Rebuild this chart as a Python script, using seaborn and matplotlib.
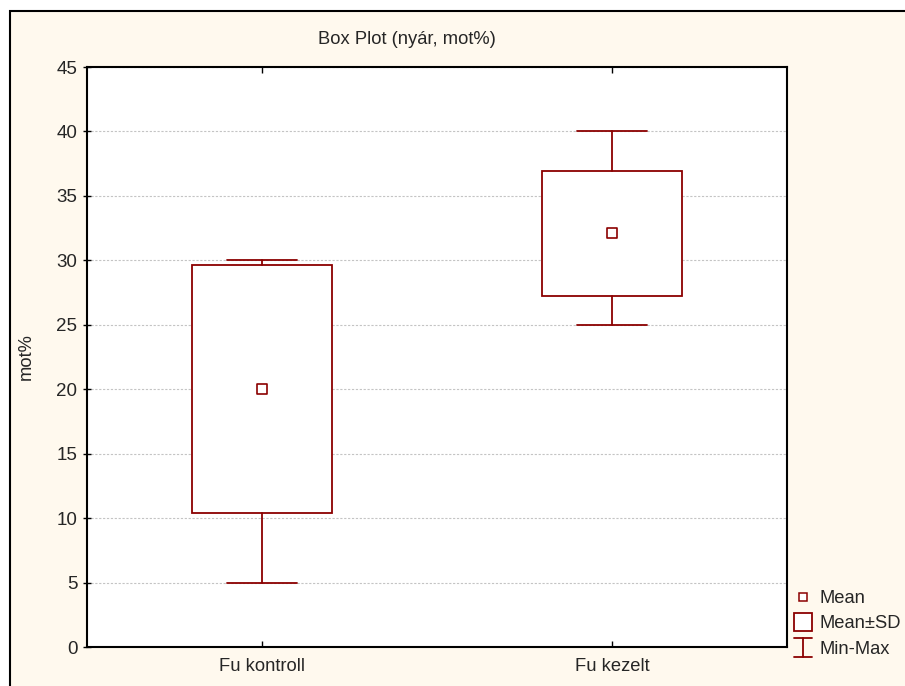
import numpy as np
import pandas as pd
import seaborn as sns
import matplotlib
matplotlib.use("Agg")
import matplotlib.pyplot as plt
from matplotlib.patches import Rectangle
from matplotlib.lines import Line2D
from matplotlib.legend_handler import HandlerBase

# ---- data ----
categories = ["Fu kontroll", "Fu kezelt"]
means = [20.0, 32.1]
sds = [9.6, 4.85]
mins = [5.0, 25.0]
maxs = [30.0, 40.0]
yticks = [0, 5, 10, 15, 20, 25, 30, 35, 40, 45]

RED = "#8b0000"
CREAM = "#fff9ee"
FS = 13.2

sns.set_style("white")
plt.rcParams["font.family"] = ["Liberation Sans", "DejaVu Sans"]

fig = plt.figure(figsize=(9.05, 6.86), dpi=100)
fig.patch.set_facecolor("white")
frame = Rectangle((10 / 905, -0.1), 1.2, 1 - 11 / 686 + 0.1,
                  transform=fig.transFigure, facecolor=CREAM,
                  edgecolor="black", lw=1.5, zorder=-10)
fig.patches.append(frame)

ax = fig.add_axes([87 / 905, 1 - 647 / 686, 700 / 905, 580 / 686])
ax.set_facecolor("white")

df = pd.DataFrame({"group": categories, "mean": means})

stats = []
for c, m, s, lo, hi in zip(categories, means, sds, mins, maxs):
    stats.append(dict(label=c, med=m, mean=m, q1=m - s, q3=m + s,
                      whislo=lo, whishi=hi, fliers=[]))

lw = 1.3
ax.bxp(stats, positions=list(range(len(categories))), widths=0.4,
       capwidths=0.2, showfliers=False, patch_artist=True,
       boxprops=dict(facecolor="white", edgecolor=RED, lw=lw),
       whiskerprops=dict(color=RED, lw=lw),
       capprops=dict(color=RED, lw=lw),
       medianprops=dict(lw=0, alpha=0),
       manage_ticks=False, zorder=3)

sns.stripplot(data=df, x="group", y="mean", order=categories, jitter=False,
              marker="s", size=7, color="white", edgecolor=RED,
              linewidth=1.2, ax=ax, zorder=5)

ax.set_xlim(-0.5, 1.5)
ax.set_ylim(0, 45)
ax.set_yticks(yticks)
ax.set_xticks(range(len(categories)))
ax.set_xticklabels(categories, fontsize=FS)
ax.tick_params(axis="y", labelsize=13.5, direction="inout", length=6,
               width=1, color="black", left=True, pad=4)
ax.tick_params(axis="x", direction="in", length=4, width=1, color="black",
               bottom=True, top=True, pad=8)
ax.set_xlabel("")
ax.set_ylabel("mot%", fontsize=FS)
ax.yaxis.set_label_coords(-(87 - 35) / 700, 0.5)

ax.yaxis.grid(True, color="#c4c4c4", linestyle=(0, (2, 1.5)), lw=0.8)
ax.xaxis.grid(False)
ax.set_axisbelow(True)
for sp in ax.spines.values():
    sp.set_visible(True)
    sp.set_color("black")
    sp.set_linewidth(1.5)

fig.text(407 / 905, 1 - 40 / 686, "Box Plot (nyár, mot%)", ha="center",
         va="center", fontsize=FS)


class HandlerMinMax(HandlerBase):
    def create_artists(self, legend, orig_handle, xdescent, ydescent,
                       width, height, fontsize, trans):
        cx = -xdescent + width / 2
        cy = -ydescent + height / 2
        y0 = cy - 7
        y1 = cy + 7
        hw = 6.3
        arts = [Line2D([cx, cx], [y0, y1]),
                Line2D([cx - hw, cx + hw], [y0, y0]),
                Line2D([cx - hw, cx + hw], [y1, y1])]
        for a in arts:
            a.set_color(RED)
            a.set_linewidth(1.3)
            a.set_transform(trans)
        return arts


h_mean = Line2D([], [], marker="s", ms=5.8, mfc="white", mec=RED, mew=1.1, ls="")
h_sd = Line2D([], [], marker="s", ms=12.5, mfc="white", mec=RED, mew=1.3, ls="")
h_mm = object()
leg = fig.legend([h_mean, h_sd, h_mm], ["Mean", "Mean±SD", "Min-Max"],
                 handler_map={object: HandlerMinMax()},
                 loc="upper left", bbox_to_anchor=(794 / 905, 1 - 590 / 686),
                 frameon=False, fontsize=FS, handlelength=1.0,
                 handletextpad=0.4, labelspacing=0.46, borderpad=0,
                 borderaxespad=0)

fig.savefig("out.png", dpi=100, facecolor=fig.get_facecolor())
